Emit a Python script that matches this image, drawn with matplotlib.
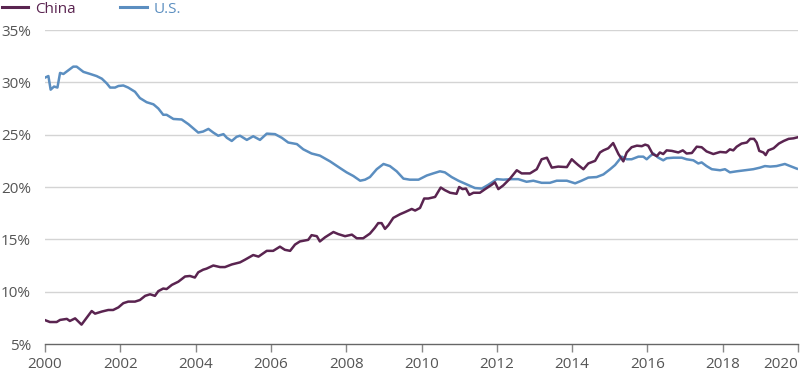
import matplotlib
matplotlib.use("Agg")
import matplotlib.pyplot as plt
from matplotlib.ticker import FuncFormatter

# ---- data (decimal years, percent share) ----
us_years = [0.00, 0.09, 0.15, 0.24, 0.33, 0.40, 0.49, 0.75, 0.84, 1.02, 1.20, 1.37, 1.51, 1.64, 1.73,
            1.86, 1.95, 2.08, 2.21, 2.39, 2.52, 2.70, 2.88, 3.01, 3.14, 3.23, 3.41, 3.63, 3.81, 3.94,
            4.07, 4.20, 4.34, 4.47, 4.60, 4.74, 4.83, 4.96, 5.09, 5.18, 5.36, 5.53, 5.71, 5.89, 6.11,
            6.29, 6.46, 6.69, 6.86, 7.08, 7.30, 7.57, 7.84, 8.01, 8.19, 8.37, 8.50, 8.63, 8.81, 8.99,
            9.16, 9.34, 9.52, 9.69, 9.92, 10.14, 10.31, 10.49, 10.62, 10.80, 10.98, 11.20, 11.42, 11.60,
            11.77, 12.00, 12.17, 12.40, 12.57, 12.79, 12.97, 13.19, 13.41, 13.59, 13.86, 14.08, 14.25,
            14.43, 14.65, 14.83, 15.01, 15.14, 15.32, 15.45, 15.58, 15.76, 15.89, 15.98, 16.07, 16.16,
            16.29, 16.42, 16.51, 16.69, 16.91, 17.04, 17.22, 17.35, 17.44, 17.57, 17.71, 17.93, 18.06,
            18.19, 18.37, 18.59, 18.81, 18.99, 19.12, 19.26, 19.43, 19.65, 19.79, 19.97]
us_values = [30.45, 30.6, 29.3, 29.6, 29.5, 30.9, 30.8, 31.5, 31.5, 31.0, 30.8, 30.6, 30.35, 29.9, 29.5,
             29.5, 29.65, 29.7, 29.5, 29.1, 28.5, 28.1, 27.9, 27.5, 26.9, 26.9, 26.5, 26.45, 26.0, 25.6,
             25.2, 25.3, 25.55, 25.2, 24.9, 25.05, 24.7, 24.4, 24.8, 24.9, 24.5, 24.85, 24.5, 25.1, 25.05,
             24.7, 24.25, 24.1, 23.6, 23.2, 23.0, 22.45, 21.8, 21.4, 21.05, 20.6, 20.7, 20.95, 21.7, 22.2,
             22.0, 21.5, 20.8, 20.7, 20.7, 21.1, 21.3, 21.5, 21.4, 20.95, 20.6, 20.25, 19.9, 19.85,
             20.2, 20.75, 20.7, 20.75, 20.75, 20.5, 20.6, 20.4, 20.4, 20.6, 20.6, 20.35, 20.6,
             20.9, 20.95, 21.2, 21.7, 22.1, 22.9, 22.65, 22.65, 22.9, 22.9, 22.65, 22.95, 23.2,
             22.8, 22.55, 22.75, 22.8, 22.8, 22.65, 22.55, 22.25, 22.35, 22.0, 21.7, 21.6, 21.7,
             21.4, 21.5, 21.6, 21.7, 21.85, 22.0, 21.95, 22.0, 22.2, 22.0, 21.75]

cn_years = [0.00, 0.13, 0.31, 0.40, 0.58, 0.66, 0.80, 0.97, 1.24, 1.33, 1.51, 1.68, 1.81, 1.95, 2.08,
            2.21, 2.39, 2.52, 2.66, 2.79, 2.92, 3.01, 3.14, 3.23, 3.37, 3.54, 3.72, 3.85, 3.98, 4.07,
            4.20, 4.29, 4.47, 4.65, 4.78, 4.96, 5.18, 5.31, 5.53, 5.67, 5.89, 6.06, 6.24, 6.37, 6.51,
            6.64, 6.77, 6.99, 7.08, 7.22, 7.30, 7.44, 7.66, 7.79, 7.97, 8.15, 8.28, 8.45, 8.63, 8.76,
            8.85, 8.94, 9.03, 9.12, 9.25, 9.43, 9.56, 9.74, 9.83, 9.96, 10.07, 10.18, 10.36, 10.51,
            10.62, 10.76, 10.93, 11.00, 11.09, 11.18, 11.27, 11.38, 11.55, 11.69, 11.86, 11.95, 12.04,
            12.17, 12.35, 12.53, 12.66, 12.88, 13.06, 13.19, 13.33, 13.46, 13.63, 13.86, 13.99, 14.08,
            14.16, 14.30, 14.43, 14.61, 14.74, 14.83, 14.96, 15.09, 15.23, 15.36, 15.45, 15.58, 15.72,
            15.85, 15.94, 16.02, 16.14, 16.25, 16.33, 16.42, 16.51, 16.65, 16.82, 16.94, 17.04, 17.18,
            17.31, 17.44, 17.57, 17.75, 17.93, 18.09, 18.19, 18.28, 18.37, 18.50, 18.64, 18.73, 18.83,
            18.90, 18.97, 19.08, 19.14, 19.21, 19.35, 19.49, 19.62, 19.75, 19.88, 19.99]
cn_values = [7.28, 7.1, 7.1, 7.3, 7.4, 7.2, 7.45, 6.85, 8.15, 7.9, 8.1, 8.25, 8.25, 8.5, 8.9,
             9.05, 9.05, 9.2, 9.6, 9.75, 9.6, 10.05, 10.3, 10.25, 10.65, 10.95, 11.45, 11.5, 11.35, 11.85,
             12.1, 12.2, 12.5, 12.35, 12.35, 12.6, 12.8, 13.05, 13.5, 13.35, 13.9, 13.9, 14.3, 14.0, 13.9,
             14.5, 14.8, 14.95, 15.4, 15.3, 14.8, 15.2, 15.7, 15.5, 15.3, 15.45, 15.1, 15.1, 15.55, 16.1,
             16.55, 16.55, 16.0, 16.35, 17.05, 17.4, 17.6, 17.9, 17.75, 18.0, 18.9, 18.9, 19.05, 19.95,
             19.7, 19.45, 19.35, 20.0, 19.8, 19.85, 19.25, 19.45, 19.45, 19.8, 20.2, 20.45, 19.8,
             20.15, 20.8, 21.6, 21.3, 21.3, 21.7, 22.65, 22.8, 21.85, 21.95, 21.9, 22.65, 22.35,
             22.1, 21.7, 22.25, 22.5, 23.3, 23.5, 23.7, 24.2, 23.15, 22.45, 23.3, 23.8, 23.95,
             23.9, 24.05, 23.95, 23.15, 22.95, 23.3, 23.15, 23.5, 23.45, 23.3, 23.5, 23.2, 23.25,
             23.85, 23.8, 23.4, 23.15, 23.35, 23.3, 23.6, 23.5, 23.85, 24.15, 24.25, 24.6, 24.6,
             24.25, 23.45, 23.3, 23.05, 23.5, 23.7, 24.15, 24.4, 24.6, 24.65, 24.75]

base_year = 2000
x_ticks = [2000, 2002, 2004, 2006, 2008, 2010, 2012, 2014, 2016, 2018, 2020]
y_ticks = [5, 10, 15, 20, 25, 30, 35]
series_labels = ["China", "U.S."]

# ---- style ----
CN_COLOR = "#5a2450"
US_COLOR = "#5b8ec0"
TEXT = "#555555"
plt.rcParams['font.family'] = ['Open Sans', 'DejaVu Sans']

fig = plt.figure(figsize=(8.0, 3.76), dpi=100)
ax = fig.add_axes([0.05625, 0.0851, 0.9413, 0.8351])

ax.plot([base_year + y for y in cn_years], cn_values, color=CN_COLOR, lw=1.8,
        label=series_labels[0], zorder=3, solid_joinstyle='round')
ax.plot([base_year + y for y in us_years], us_values, color=US_COLOR, lw=1.8,
        label=series_labels[1], zorder=2, solid_joinstyle='round')

ax.set_xlim(2000, 2020)
ax.set_ylim(5, 35)
ax.set_xticks(x_ticks)
ax.set_yticks(y_ticks)
ax.yaxis.set_major_formatter(FuncFormatter(lambda v, p: f"{v:.0f}%"))

for v in y_ticks[1:]:
    ax.axhline(v, color="#d4d4d4", lw=1.0, zorder=1)

for s in ["top", "right", "left"]:
    ax.spines[s].set_visible(False)
ax.spines["bottom"].set_color("#666666")
ax.spines["bottom"].set_linewidth(1.0)

ax.tick_params(axis="y", length=0, pad=10, labelsize=11, labelcolor=TEXT)
ax.tick_params(axis="x", length=6, width=1.0, color="#888888", pad=3,
               labelsize=11, labelcolor=TEXT)
for lbl in ax.get_yticklabels():
    lbl.set_horizontalalignment("right")
xlabels = ax.get_xticklabels()
xlabels[-1].set_horizontalalignment("right")

leg = ax.legend(loc="upper left", bbox_to_anchor=(0.0, 1.0), bbox_transform=fig.transFigure,
                ncol=2, frameon=False, fontsize=11, handlelength=1.75, handletextpad=0.45,
                columnspacing=2.9, borderpad=0.0, borderaxespad=0.1, labelcolor="linecolor")
for line in leg.get_lines():
    line.set_linewidth(2.2)

fig.savefig("out.png", dpi=100)
